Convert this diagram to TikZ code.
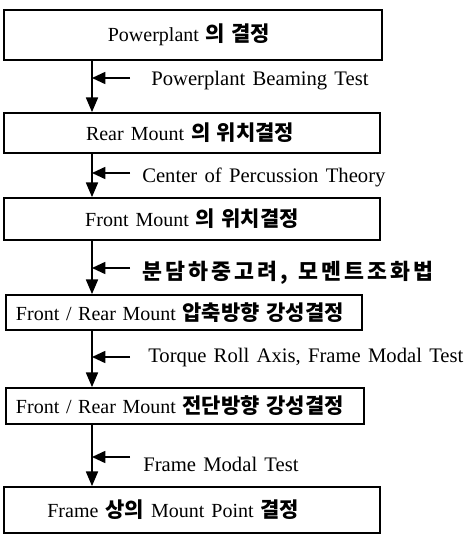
\documentclass[tikz,border=0pt]{standalone}
\usepackage{fontspec}
\setmainfont{Liberation Serif}[WordSpace=1.4]
\newfontfamily\kr{Noto Sans CJK KR}[Scale=1.05,WordSpace=1.3]
\newfontfamily\krw{Noto Sans CJK KR}[Scale=1.05,WordSpace=1.3,LetterSpace=14]
\usetikzlibrary{arrows.meta}
\newcommand{\K}[1]{{\kr\bfseries #1}}
\begin{document}
\begin{tikzpicture}[x=0.75pt,y=-0.75pt,
  box/.style={draw, line width=1.3pt, inner sep=0pt, font=\fontsize{15}{17}\selectfont},
  lbl/.style={anchor=west, inner sep=0pt, font=\fontsize{15.5}{17}\selectfont},
  flow/.style={line width=1.3pt, -{Triangle[length=11pt,width=9pt]}},
  side/.style={line width=1.3pt, -{Triangle[length=10pt,width=9pt]}}]
\useasboundingbox (0,0) rectangle (471,538);
\fill[white] (0,0) rectangle (471,538);

\node[box, minimum width=283.5pt, minimum height=37.5pt] (b1) at (193,35) {Powerplant \K{의 결정}\hspace*{6pt}};
\node[box, minimum width=282pt, minimum height=30pt] (b2) at (192,133) {Rear Mount \K{의 위치결정}\hspace*{3pt}};
\node[box, minimum width=282pt, minimum height=31.5pt] (b3) at (192,219) {Front Mount \K{의 위치결정}};
\node[box, inner xsep=7.5pt, text width=252pt, align=left, minimum height=26.25pt] (b4) at (184,312.5) {Front / Rear Mount \K{압축방향 강성결정}};
\node[box, inner xsep=7.5pt, text width=253.5pt, align=left, minimum height=27pt] (b5) at (185,406) {Front / Rear Mount \K{전단방향 강성결정}};
\node[box, minimum width=282pt, minimum height=34.5pt] (b6) at (192,510) {Frame \K{상의} Mount Point \K{결정}\hspace*{28pt}};

\coordinate (v) at (92,0);
\draw[flow] (b1.south -| v) -- (b2.north -| v);
\draw[flow] (b2.south -| v) -- (b3.north -| v);
\draw[flow] (b3.south -| v) -- (b4.north -| v);
\draw[flow] (b4.south -| v) -- (b5.north -| v);
\draw[flow] (b5.south -| v) -- (b6.north -| v);

\coordinate (s1) at (130,78);
\coordinate (s2) at (130,173);
\coordinate (s3) at (130,268);
\coordinate (s4) at (130,357);
\coordinate (s5) at (130,457);
\draw[side] (s1) -- (s1 -| v);
\draw[side] (s2) -- (s2 -| v);
\draw[side] (s3) -- (s3 -| v);
\draw[side] (s4) -- (s4 -| v);
\draw[side] (s5) -- (s5 -| v);

\node[lbl] (l1) at (151,81) {Powerplant Beaming Test};
\node[lbl] (l2) at (142,177) {Center of Percussion Theory};
\node[lbl] (l3) at (142,273) {{\krw\bfseries 분담하중고려, 모멘트조화법}};
\node[lbl] (l4) at (148,358) {Torque Roll Axis, Frame Modal Test};
\node[lbl] (l5) at (143,464) {Frame Modal Test};
\end{tikzpicture}
\end{document}
